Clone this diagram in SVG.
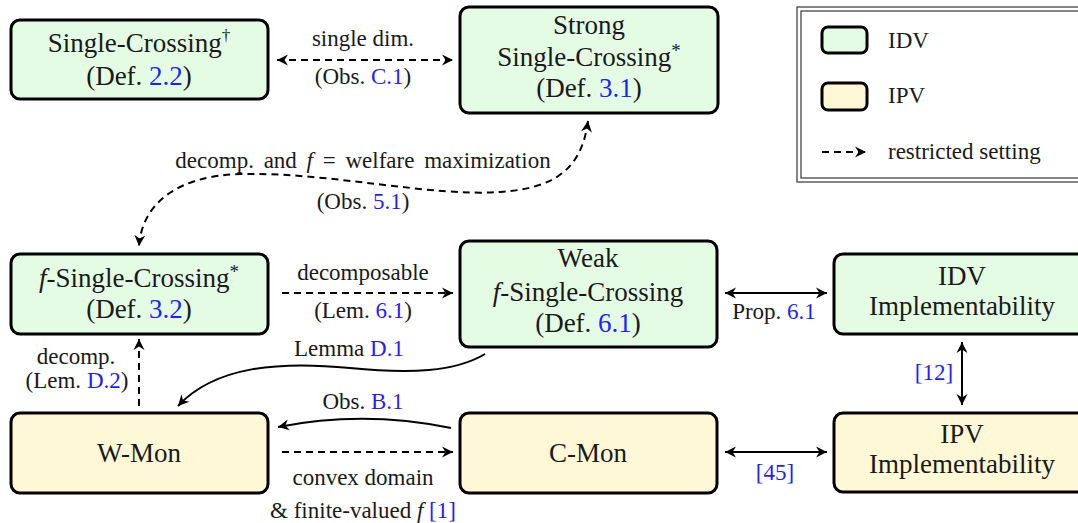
<svg xmlns="http://www.w3.org/2000/svg" width="1078" height="523" viewBox="0 0 1078 523">
<style>
text{font-family:"Liberation Serif","Times New Roman",serif;fill:#1a1a1a}
.n{font-size:27px;text-anchor:middle}
.l{font-size:23px;text-anchor:middle}
.lg{font-size:23px}
.r{fill:#1f1fff}
.i{font-style:italic}
.idv{fill:#e3fce3;stroke:#000;stroke-width:3}
.ipv{fill:#fff8d6;stroke:#000;stroke-width:3}
.c{fill:none;stroke:#000;stroke-width:2}
.d{stroke-dasharray:7 5}
</style>
<defs>
<marker id="ah" viewBox="-12 -6 13 12" refX="0" refY="0" markerWidth="13" markerHeight="12" markerUnits="userSpaceOnUse" orient="auto-start-reverse">
<path d="M0,0 L-11,-5.5 L-7.5,0 L-11,5.5 Z" fill="#000"/>
</marker>
</defs>

<g id="legend">
<rect x="797" y="7" width="300" height="175" fill="#fff" stroke="#444" stroke-width="1.3"/>
<rect x="801" y="11" width="300" height="167" fill="none" stroke="#444" stroke-width="1.3"/>
<rect class="idv" x="822" y="27" width="45" height="26" rx="6"/>
<text class="lg" x="888" y="48">IDV</text>
<rect class="ipv" x="822" y="83" width="45" height="27" rx="6"/>
<text class="lg" x="888" y="103">IPV</text>
<line class="c d" x1="822" y1="152" x2="866" y2="152" marker-end="url(#ah)"/>
<text class="lg" x="888" y="159">restricted setting</text>
</g>

<g id="n-sc">
<rect class="idv" x="11" y="20" width="257" height="79" rx="9"/>
<text class="n" x="139" y="52">Single-Crossing<tspan font-size="17" dy="-11">†</tspan></text>
<text class="n" x="139" y="85">(Def. <tspan class="r">2.2</tspan>)</text>
</g>

<g id="n-ssc">
<rect class="idv" x="460" y="7" width="258" height="106" rx="9"/>
<text class="n" x="589" y="34">Strong</text>
<text class="n" x="589" y="66">Single-Crossing<tspan font-size="19" dy="-9">*</tspan></text>
<text class="n" x="589" y="97">(Def. <tspan class="r">3.1</tspan>)</text>
</g>

<g id="n-fsc">
<rect class="idv" x="11" y="254" width="257" height="80" rx="9"/>
<text class="n" x="139" y="287"><tspan class="i">f</tspan>-Single-Crossing<tspan font-size="19" dy="-9">*</tspan></text>
<text class="n" x="139" y="318">(Def. <tspan class="r">3.2</tspan>)</text>
</g>

<g id="n-wfsc">
<rect class="idv" x="460" y="241" width="257" height="106" rx="9"/>
<text class="n" x="588" y="267">Weak</text>
<text class="n" x="588" y="301"><tspan class="i">f</tspan>-Single-Crossing</text>
<text class="n" x="588" y="332">(Def. <tspan class="r">6.1</tspan>)</text>
</g>

<g id="n-idvimpl">
<rect class="idv" x="834" y="254" width="260" height="80" rx="9"/>
<text class="n" x="962" y="285">IDV</text>
<text class="n" x="962" y="315">Implementability</text>
</g>

<g id="n-ipvimpl">
<rect class="ipv" x="834" y="413" width="260" height="79" rx="9"/>
<text class="n" x="962" y="443">IPV</text>
<text class="n" x="962" y="473">Implementability</text>
</g>

<g id="n-wmon">
<rect class="ipv" x="11" y="413" width="257" height="80" rx="9"/>
<text class="n" x="139" y="462">W-Mon</text>
</g>

<g id="n-cmon">
<rect class="ipv" x="460" y="413" width="257" height="80" rx="9"/>
<text class="n" x="588" y="462">C-Mon</text>
</g>

<g id="connectors">
<line class="c d" x1="277" y1="60" x2="453" y2="60" marker-start="url(#ah)" marker-end="url(#ah)"/>
<text class="l" x="363" y="46">single dim.</text>
<text class="l" x="363" y="84">(Obs. <tspan class="r">C.1</tspan>)</text>

<path class="c d" d="M588,121 C582,165 560,188 500,192 C430,197 330,172 240,174 C175,176 142,205 139,246" marker-start="url(#ah)" marker-end="url(#ah)"/>
<text class="l" x="363" y="168" word-spacing="4">decomp. and <tspan class="i">f</tspan> = welfare maximization</text>
<text class="l" x="363" y="209">(Obs. <tspan class="r">5.1</tspan>)</text>

<line class="c d" x1="282" y1="293" x2="453" y2="293" marker-end="url(#ah)"/>
<text class="l" x="363" y="280">decomposable</text>
<text class="l" x="363" y="318">(Lem. <tspan class="r">6.1</tspan>)</text>

<line class="c" x1="725" y1="293" x2="827" y2="293" marker-start="url(#ah)" marker-end="url(#ah)"/>
<text class="l" x="774" y="319">Prop. <tspan class="r">6.1</tspan></text>

<line class="c" x1="962" y1="342" x2="962" y2="405" marker-start="url(#ah)" marker-end="url(#ah)"/>
<text class="l r" x="934" y="380">[12]</text>

<line class="c d" x1="139" y1="406" x2="139" y2="339" marker-end="url(#ah)"/>
<text class="l" x="76" y="364">decomp.</text>
<text class="l" x="77" y="388">(Lem. <tspan class="r">D.2</tspan>)</text>

<path class="c" d="M485,354 C455,372 410,374 350,368 C280,361 215,366 178,406" marker-end="url(#ah)"/>
<text class="l" x="349" y="356">Lemma <tspan class="r">D.1</tspan></text>

<path class="c" d="M451,428 Q364,410 278,427" marker-end="url(#ah)"/>
<text class="l" x="363" y="409">Obs. <tspan class="r">B.1</tspan></text>

<line class="c d" x1="282" y1="452" x2="453" y2="452" marker-end="url(#ah)"/>
<text class="l" x="363" y="485">convex domain</text>
<text class="l" x="363" y="518">&amp; finite-valued <tspan class="i">f</tspan> <tspan class="r">[1]</tspan></text>

<line class="c" x1="725" y1="452" x2="827" y2="452" marker-start="url(#ah)" marker-end="url(#ah)"/>
<text class="l r" x="775" y="480">[45]</text>
</g>
</svg>
